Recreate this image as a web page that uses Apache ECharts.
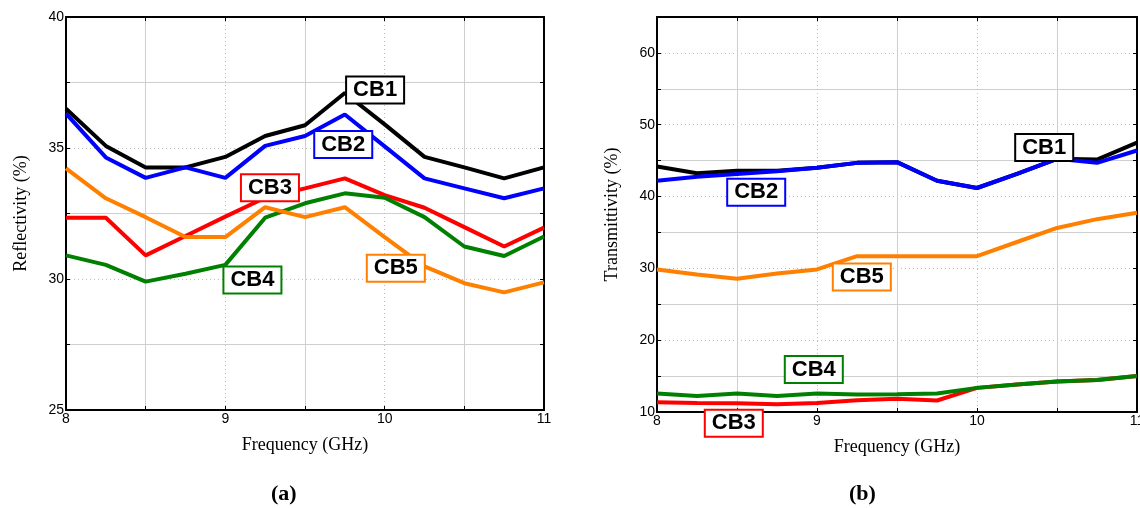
<!DOCTYPE html>
<html>
<head>
<meta charset="utf-8">
<script src="https://cdn.jsdelivr.net/npm/echarts@6/dist/echarts.min.js"></script>
<style>
html,body{margin:0;padding:0;background:#fff;}
#chart{width:1140px;height:508px;}
</style>
</head>
<body>
<div id="chart"></div>
<script>
// ---- data ----
const freqs = [8, 8.25, 8.5, 8.75, 9, 9.25, 9.5, 9.75, 10, 10.25, 10.5, 10.75, 11];
const seriesNames = ['CB1', 'CB2', 'CB3', 'CB4', 'CB5'];

// (a) Reflectivity (%)
const refCB1 = [36.5, 35.08, 34.26, 34.26, 34.66, 35.46, 35.87, 37.1, 35.9, 34.66, 34.26, 33.84, 34.26];
const refCB2 = [36.31, 34.64, 33.86, 34.26, 33.86, 35.08, 35.46, 36.28, 35.06, 33.84, 33.46, 33.08, 33.46];
const refCB3 = [32.34, 32.34, 30.9, 31.64, 32.38, 33.1, 33.46, 33.84, 33.2, 32.72, 31.98, 31.24, 31.96];
const refCB4 = [30.9, 30.54, 29.9, 30.2, 30.54, 32.34, 32.89, 33.27, 33.1, 32.36, 31.24, 30.88, 31.62];
const refCB5 = [34.22, 33.08, 32.36, 31.6, 31.6, 32.74, 32.36, 32.74, 31.6, 30.48, 29.84, 29.49, 29.87];

// (b) Transmittivity (%)
const trCB1 = [44.17, 43.25, 43.6, 43.6, 44.0, 44.69, 44.79, 42.2, 41.19, 43.15, 45.25, 45.15, 47.5];
const trCB2 = [42.21, 42.77, 43.15, 43.53, 44.0, 44.69, 44.79, 42.2, 41.19, 43.15, 45.25, 44.69, 46.41];
const trCB3 = [11.36, 11.26, 11.22, 11.08, 11.26, 11.64, 11.83, 11.6, 13.36, 13.83, 14.25, 14.44, 15.0];
const trCB4 = [12.57, 12.24, 12.57, 12.24, 12.57, 12.43, 12.48, 12.57, 13.36, 13.83, 14.25, 14.44, 15.0];
const trCB5 = [29.85, 29.15, 28.54, 29.28, 29.85, 31.7, 31.7, 31.7, 31.7, 33.67, 35.63, 36.85, 37.73];

// ---- label anchors (in data coordinates) ----
const refLabelAt = [[9.94, 37.21], [9.74, 35.13], [9.28, 33.48], [9.17, 29.96], [10.07, 30.41]];
const trLabelAt = [[10.42, 46.83], [8.62, 40.59], [8.48, 8.42], [8.98, 15.91], [9.28, 28.8]];

const colors = ['#000000', '#0000ff', '#ff0000', '#008000', '#ff8000'];
const sans = 'Arial, "Liberation Sans", sans-serif';
const serif = '"Times New Roman", "Liberation Serif", serif';

function pairs(ys) { return freqs.map((f, i) => [f, ys[i]]); }

const tickStyle = { inside: true, length: 4, lineStyle: { color: '#000' } };
const minorTickStyle = { show: true, splitNumber: 2, length: 4, lineStyle: { color: '#000' } };

function xAxisCfg(gridIndex) {
  return {
    type: 'value', gridIndex, min: 8, max: 11, interval: 1,
    name: 'Frequency (GHz)', nameLocation: 'middle', nameGap: 26,
    nameTextStyle: { fontFamily: serif, fontSize: 18, color: '#000' },
    axisLine: { lineStyle: { color: '#000', width: 2 } },
    axisTick: tickStyle, minorTick: minorTickStyle,
    axisLabel: { fontFamily: sans, fontSize: 14, color: '#000', margin: 2 },
    splitLine: { show: true, lineStyle: { color: '#bdbdbd', type: [1, 3], width: 1 } },
    minorSplitLine: { show: true, lineStyle: { color: '#cfcfcf', width: 1 } }
  };
}
function xAxisTop(gridIndex) {
  return {
    type: 'value', gridIndex, min: 8, max: 11, interval: 1, position: 'top',
    axisLine: { onZero: false, lineStyle: { color: '#000', width: 2 } },
    axisTick: tickStyle, minorTick: minorTickStyle,
    axisLabel: { show: false }, splitLine: { show: false }
  };
}
function yAxisCfg(gridIndex, min, max, interval, name) {
  return {
    type: 'value', gridIndex, min, max, interval,
    name, nameLocation: 'middle', nameGap: 36,
    nameTextStyle: { fontFamily: serif, fontSize: 18, color: '#000' },
    axisLine: { lineStyle: { color: '#000', width: 2 } },
    axisTick: tickStyle, minorTick: minorTickStyle,
    axisLabel: { fontFamily: sans, fontSize: 14, color: '#000', margin: 2, showMaxLabel: max % interval === 0 },
    splitLine: { show: true, lineStyle: { color: '#bdbdbd', type: [1, 3], width: 1 } },
    minorSplitLine: { show: true, lineStyle: { color: '#cfcfcf', width: 1 } }
  };
}
function yAxisRight(gridIndex, min, max, interval) {
  return {
    type: 'value', gridIndex, min, max, interval, position: 'right',
    axisLine: { onZero: false, lineStyle: { color: '#000', width: 2 } },
    axisTick: tickStyle, minorTick: minorTickStyle,
    axisLabel: { show: false }, splitLine: { show: false }
  };
}

function makeSeries(dataSets, xi, yi) {
  return dataSets.map((ys, k) => ({
    name: seriesNames[k] + (xi ? 'b' : 'a'),
    type: 'line', xAxisIndex: xi, yAxisIndex: yi,
    data: pairs(ys), showSymbol: false, symbol: 'none',
    lineStyle: { color: colors[k], width: 4 },
    color: colors[k], z: 2 + k
  }));
}
function makeLabels(labelAt, xi, yi) {
  return {
    type: 'scatter', xAxisIndex: xi, yAxisIndex: yi, clip: false,
    symbolSize: 0, z: 20, silent: true,
    itemStyle: { opacity: 1 },
    emphasis: { disabled: true },
    data: labelAt.map((c, k) => ({
      value: c, name: seriesNames[k],
      label: { borderColor: colors[k] }
    })),
    label: {
      show: true, position: 'inside', formatter: '{b}',
      fontFamily: sans, fontSize: 22, fontWeight: 'bold', color: '#000', opacity: 1,
      backgroundColor: '#fff', borderWidth: 2,
      padding: [2, 6, 1, 6]
    }
  };
}

const chart = echarts.init(document.getElementById('chart'), null, { renderer: 'canvas' });
chart.setOption({
  animation: false,
  backgroundColor: '#fff',
  title: [
    { text: '(a)', left: 266, top: 478, textStyle: { fontFamily: serif, fontSize: 22, fontWeight: 'bold', color: '#000' } },
    { text: '(b)', left: 844, top: 478, textStyle: { fontFamily: serif, fontSize: 22, fontWeight: 'bold', color: '#000' } }
  ],
  grid: [
    { left: 66, top: 17, width: 478, height: 393, outerBoundsMode: 'none' },
    { left: 657, top: 17, width: 480, height: 395, outerBoundsMode: 'none' }
  ],
  xAxis: [xAxisCfg(0), xAxisCfg(1), xAxisTop(0), xAxisTop(1)],
  yAxis: [
    yAxisCfg(0, 25, 40, 5, 'Reflectivity (%)'),
    yAxisCfg(1, 10, 65, 10, 'Transmittivity (%)'),
    yAxisRight(0, 25, 40, 5),
    yAxisRight(1, 10, 65, 10)
  ],
  series: [
    ...makeSeries([refCB1, refCB2, refCB3, refCB4, refCB5], 0, 0),
    ...makeSeries([trCB1, trCB2, trCB3, trCB4, trCB5], 1, 1),
    makeLabels(refLabelAt, 0, 0),
    makeLabels(trLabelAt, 1, 1)
  ]
});
</script>
</body>
</html>
